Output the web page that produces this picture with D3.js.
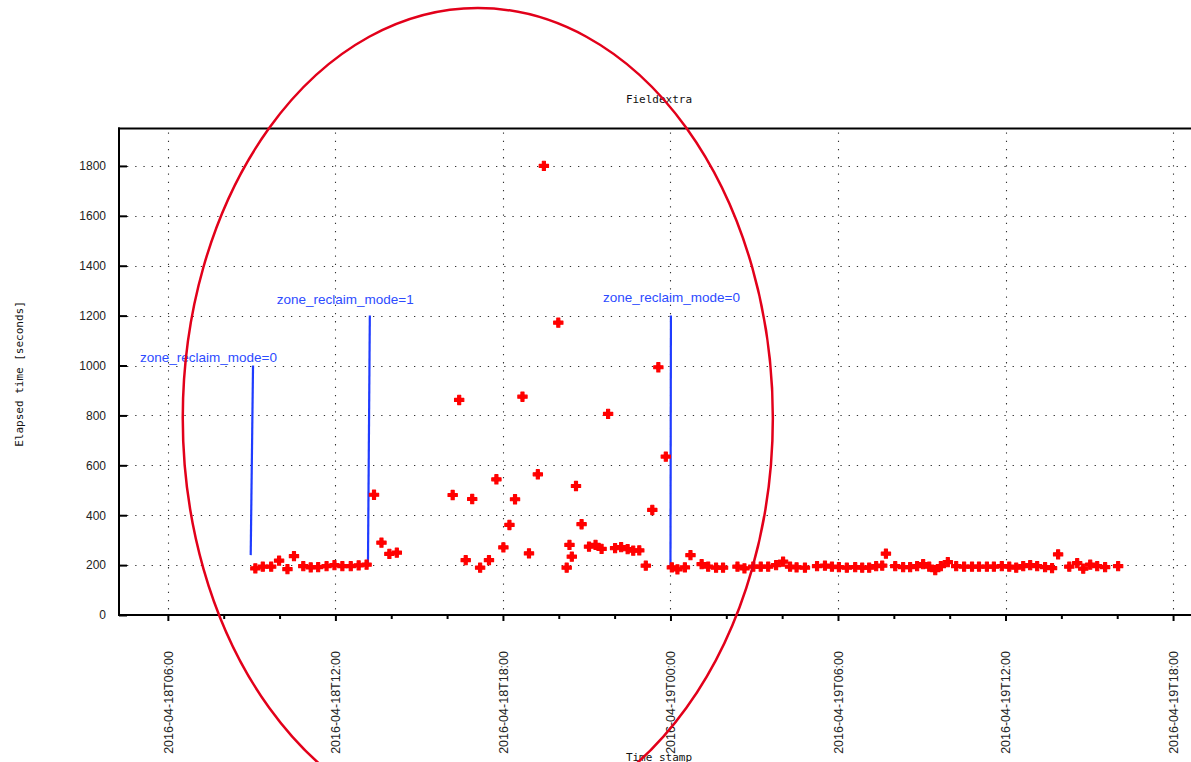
<!DOCTYPE html>
<html lang="en">
<head>
<meta charset="UTF-8">
<title>Fieldextra</title>
<script src="https://d3js.org/d3.v7.min.js"></script>
<style>
    body { margin: 0; background: #fff; }
    svg { display: block; }
    .grid line { stroke: #333; stroke-width: 1.1; stroke-dasharray: 1.3, 6.9; }
    .axis path { display: none; }
    .axis line { stroke: #000; stroke-width: 2; }
    .axis text { font-family: "Liberation Sans", Arial, sans-serif; fill: #222; }
    .mono { font-family: "DejaVu Sans Mono", monospace; fill: #111; }
</style>
</head>
<body>
<svg width="1191" height="762"></svg>
<script>
// run start times and elapsed seconds
var runTimes = [
    "2016-04-18T09:08","2016-04-18T09:24","2016-04-18T09:42","2016-04-18T09:59","2016-04-18T10:17","2016-04-18T10:31","2016-04-18T10:51","2016-04-18T11:07","2016-04-18T11:23","2016-04-18T11:41",
    "2016-04-18T11:58","2016-04-18T12:15","2016-04-18T12:33","2016-04-18T12:50","2016-04-18T13:07","2016-04-18T13:23","2016-04-18T13:39","2016-04-18T13:56","2016-04-18T14:12",
    "2016-04-18T16:12","2016-04-18T16:26","2016-04-18T16:40","2016-04-18T16:54","2016-04-18T17:11","2016-04-18T17:30","2016-04-18T17:46","2016-04-18T18:01","2016-04-18T18:14","2016-04-18T18:26",
    "2016-04-18T18:42","2016-04-18T18:56","2016-04-18T19:15","2016-04-18T19:28","2016-04-18T19:59","2016-04-18T20:17","2016-04-18T20:23","2016-04-18T20:28","2016-04-18T20:37","2016-04-18T20:49",
    "2016-04-18T21:05","2016-04-18T21:19","2016-04-18T21:32","2016-04-18T21:46","2016-04-18T22:01","2016-04-18T22:14","2016-04-18T22:28","2016-04-18T22:40","2016-04-18T22:53","2016-04-18T23:07",
    "2016-04-18T23:21","2016-04-18T23:34","2016-04-18T23:50",
    "2016-04-19T00:03","2016-04-19T00:15","2016-04-19T00:31","2016-04-19T00:43","2016-04-19T01:07","2016-04-19T01:21","2016-04-19T01:38","2016-04-19T01:53","2016-04-19T02:24","2016-04-19T02:39",
    "2016-04-19T02:58","2016-04-19T03:14","2016-04-19T03:30","2016-04-19T03:47","2016-04-19T04:02","2016-04-19T04:17","2016-04-19T04:31","2016-04-19T04:49",
    "2016-04-19T05:15","2016-04-19T05:32","2016-04-19T05:47","2016-04-19T06:02","2016-04-19T06:19","2016-04-19T06:37","2016-04-19T06:52","2016-04-19T07:07","2016-04-19T07:22","2016-04-19T07:35",
    "2016-04-19T07:43","2016-04-19T08:03","2016-04-19T08:20","2016-04-19T08:35","2016-04-19T08:50","2016-04-19T09:03","2016-04-19T09:16","2016-04-19T09:29","2016-04-19T09:41","2016-04-19T09:56",
    "2016-04-19T10:14","2016-04-19T10:31","2016-04-19T10:48","2016-04-19T11:03","2016-04-19T11:20","2016-04-19T11:35","2016-04-19T11:52","2016-04-19T12:08","2016-04-19T12:23","2016-04-19T12:38",
    "2016-04-19T12:53","2016-04-19T13:08","2016-04-19T13:25","2016-04-19T13:40","2016-04-19T13:53","2016-04-19T14:17","2016-04-19T14:34","2016-04-19T14:47","2016-04-19T15:02","2016-04-19T15:17",
    "2016-04-19T15:34","2016-04-19T16:02"
];
var elapsed = [
    187, 194, 194, 218, 184, 236, 196, 191, 192, 196,
    200, 196, 196, 199, 202, 482, 290, 245, 250,
    481, 862, 220, 465, 190, 220, 544, 271, 361, 464,
    875, 247, 564, 1800, 1172, 190, 281, 234, 517, 364,
    274, 281, 265, 806, 268, 272, 264, 258, 259, 198,
    421, 993, 635,
    191, 183, 191, 240, 204, 194, 190, 190, 194, 187,
    194, 194, 194, 200, 214, 194, 191, 190,
    196, 198, 194, 192, 190, 192, 190, 190, 196, 198,
    246, 196, 192, 192, 196, 204, 194, 180, 196, 212,
    196, 194, 194, 194, 194, 194, 196, 194, 190, 196,
    200, 196, 192, 188, 243, 194, 208, 186, 202, 196,
    192, 196
];

var xDomain = ["2016-04-18T04:15", "2016-04-19T18:45"];
var majorTicks = ["2016-04-18T06:00", "2016-04-18T12:00", "2016-04-18T18:00", "2016-04-19T00:00",
                  "2016-04-19T06:00", "2016-04-19T12:00", "2016-04-19T18:00"];
var yTicks = [0, 200, 400, 600, 800, 1000, 1200, 1400, 1600, 1800];

// blue markers for the zone_reclaim_mode changes
var notes = [
    { top: ["2016-04-18T09:03", 1000], bottom: ["2016-04-18T08:58", 240], label: "zone_reclaim_mode=0", at: ["2016-04-18T05:00", 1014] },
    { top: ["2016-04-18T13:14", 1200], bottom: ["2016-04-18T13:10", 208], label: "zone_reclaim_mode=1", at: ["2016-04-18T09:54", 1248] },
    { top: ["2016-04-19T00:01", 1200], bottom: ["2016-04-19T00:00", 192], label: "zone_reclaim_mode=0", at: ["2016-04-18T21:35", 1256] }
];

// hand drawn red ellipse, centre in data units, radii in hours / seconds
var ringCentre = ["2016-04-18T17:06", 790];
var ringRadius = [10.57, 1643];

var parse = d3.utcParse("%Y-%m-%dT%H:%M");
var fmt = d3.utcFormat("%Y-%m-%dT%H:%M");

var svg = d3.select("svg");
var plotL = 119, plotR = 1194, plotT = 128.5, plotB = 615;

var x = d3.scaleUtc().domain(xDomain.map(parse)).range([plotL, plotR]);
var y = d3.scaleLinear().domain([0, 1950]).range([plotB, plotT]);

var majors = majorTicks.map(parse);
var minors = d3.utcHour.every(2).range(x.domain()[0], x.domain()[1])
    .filter(function (d) { return d.getUTCHours() % 6 != 0; });

// grid
var grid = svg.append("g").attr("class", "grid");
grid.selectAll("line.h").data(yTicks.slice(1)).enter().append("line")
    .attr("class", "h")
    .attr("x1", plotL + 8).attr("x2", 1191)
    .attr("y1", function (d) { return Math.round(y(d)) + 0.5; })
    .attr("y2", function (d) { return Math.round(y(d)) + 0.5; });
grid.selectAll("line.v").data(majors).enter().append("line")
    .attr("class", "v")
    .attr("x1", function (d) { return Math.round(x(d)) + 0.5; })
    .attr("x2", function (d) { return Math.round(x(d)) + 0.5; })
    .attr("y1", plotT + 4).attr("y2", plotB);

// axes
var yAxis = d3.axisLeft(y).tickValues(yTicks).tickSize(-8).tickPadding(13).tickFormat(d3.format("d"));
svg.append("g").attr("class", "axis")
    .attr("transform", "translate(" + plotL + ",0)")
    .call(yAxis)
    .selectAll("text").style("font-size", "12px");

var xAxis = d3.axisBottom(x).tickValues(majors).tickSize(6).tickFormat(fmt);
svg.append("g").attr("class", "axis")
    .attr("transform", "translate(0," + plotB + ")")
    .call(xAxis)
    .selectAll("text")
    .style("font-size", "12.5px")
    .attr("transform", "rotate(-90)")
    .attr("text-anchor", "end")
    .attr("x", -36).attr("y", 0).attr("dy", "0.35em");

svg.append("g").attr("class", "axis")
    .attr("transform", "translate(0," + plotB + ")")
    .call(d3.axisBottom(x).tickValues(minors).tickSize(4).tickFormat(""));

// frame
svg.append("line").attr("x1", plotL).attr("x2", plotL).attr("y1", plotT - 1).attr("y2", plotB + 1)
    .attr("stroke", "#000").attr("stroke-width", 2);
svg.append("line").attr("x1", plotL - 1).attr("x2", 1191).attr("y1", plotT).attr("y2", plotT)
    .attr("stroke", "#000").attr("stroke-width", 2);
svg.append("line").attr("x1", plotL - 1).attr("x2", 1191).attr("y1", plotB).attr("y2", plotB)
    .attr("stroke", "#000").attr("stroke-width", 2);

// blue notes
svg.selectAll("line.note").data(notes).enter().append("line")
    .attr("class", "note")
    .attr("x1", function (d) { return x(parse(d.top[0])); })
    .attr("y1", function (d) { return y(d.top[1]); })
    .attr("x2", function (d) { return x(parse(d.bottom[0])); })
    .attr("y2", function (d) { return y(d.bottom[1]); })
    .attr("stroke", "#1f3cff").attr("stroke-width", 2.2);

svg.selectAll("text.note").data(notes).enter().append("text")
    .attr("class", "note")
    .attr("x", function (d) { return x(parse(d.at[0])); })
    .attr("y", function (d) { return y(d.at[1]); })
    .style("font-family", "'Liberation Sans', Arial, sans-serif")
    .style("font-size", "13.5px")
    .attr("fill", "#2d4bff")
    .text(function (d) { return d.label; });

// runs: fat plus with filled corners, like gnuplot's point
var runs = runTimes.map(function (t, i) { return { t: parse(t), v: elapsed[i] }; });
var cross = d3.symbol().type(d3.symbolCross).size(48);
var diamond = d3.symbol().type(d3.symbolSquare).size(30);
var pts = svg.selectAll("g.run").data(runs).enter().append("g")
    .attr("class", "run")
    .attr("transform", function (d) { return "translate(" + x(d.t) + "," + y(d.v) + ")"; });
pts.append("path").attr("d", cross)
    .attr("fill", "#ff0000").attr("stroke", "#ff0000").attr("stroke-width", 1.1)
    .attr("stroke-linejoin", "round");
pts.append("path").attr("d", diamond)
    .attr("transform", "rotate(45)")
    .attr("fill", "#ff0000");

// titles
svg.append("text").attr("class", "mono")
    .attr("x", 659).attr("y", 103)
    .attr("text-anchor", "middle")
    .style("font-size", "11px")
    .text("Fieldextra");

svg.append("text").attr("class", "mono")
    .attr("transform", "translate(23,374) rotate(-90)")
    .attr("text-anchor", "middle")
    .style("font-size", "11px")
    .text("Elapsed time [seconds]");

svg.append("text").attr("class", "mono")
    .attr("x", 659).attr("y", 761)
    .attr("text-anchor", "middle")
    .style("font-size", "11px")
    .text("Time stamp");

// red ring
var c = parse(ringCentre[0]);
var cx = x(c), cy = y(ringCentre[1]);
svg.append("ellipse")
    .attr("cx", cx).attr("cy", cy)
    .attr("rx", x(d3.utcMinute.offset(c, Math.round(ringRadius[0] * 60))) - cx)
    .attr("ry", y(0) - y(ringRadius[1]))
    .attr("fill", "none")
    .attr("stroke", "#e2001a")
    .attr("stroke-width", 2.5);
</script>
</body>
</html>
